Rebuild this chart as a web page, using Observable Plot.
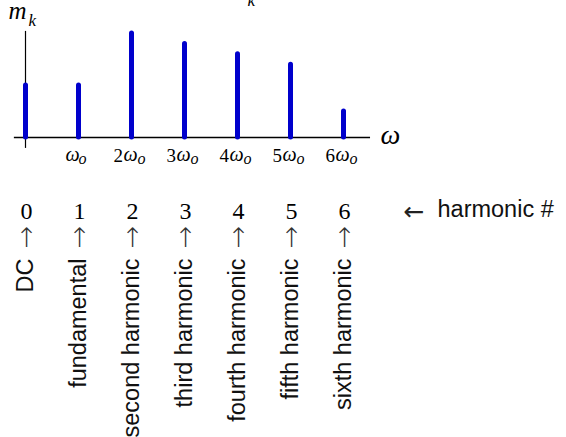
<!DOCTYPE html>
<html><head><meta charset="utf-8">
<script src="https://cdn.jsdelivr.net/npm/d3@7"></script>
<script src="https://cdn.jsdelivr.net/npm/@observablehq/plot@0.6"></script>
<style>body{margin:0;background:#fff} #chart svg{display:block}</style>
</head><body><div id="chart"></div>
<script>
// ---- data ----
const harmonics = [0, 1, 2, 3, 4, 5, 6];
const magnitudes = [1, 1, 2, 1.8, 1.6, 1.4, 0.5];
const coefLabels = ["", "", "2", "3", "4", "5", "6"];
const harmonicNames = ["DC", "fundamental", "second harmonic", "third harmonic",
  "fourth harmonic", "fifth harmonic", "sixth harmonic"];
const freqSymbol = "ω";
const freqSub = "o";
const yLabelMain = "m";
const yLabelSub = "k";
const sideArrow = "←";
const sideLabel = "harmonic #";
const upArrow = "↑";

const data = harmonics.map((k, i) => ({
  k, m: magnitudes[i], coef: coefLabels[i], name: harmonicNames[i], num: String(k)
}));
const first = data.filter(d => d.k === 1);
const multi = data.filter(d => d.k >= 2);

const serif = "'Liberation Serif', 'DejaVu Serif', serif";
const sans = "'Liberation Sans', 'DejaVu Sans', sans-serif";
const arrowFont = "'DejaVu Sans', sans-serif";
const blue = "#0000cc";

const chart = Plot.plot({
  width: 566, height: 437, margin: 0,
  x: {domain: [0, 6], range: [25, 343], axis: null},
  y: {domain: [0, 2], range: [137, 33], axis: null},
  style: {background: "white", overflow: "visible"},
  marks: [
    // axes
    Plot.ruleX([0], {y1: -0.21, y2: 2.04, stroke: "black", strokeWidth: 1.2}),
    Plot.ruleY([0], {x1: -0.21, x2: 6.51, stroke: "black", strokeWidth: 1.5}),
    // spectral lines
    Plot.ruleX(data, {x: "k", y1: 0, y2: "m", stroke: blue, strokeWidth: 5, strokeLinecap: "round"}),
    // tick labels: coefficient, omega, subscript o
    Plot.text(multi, {x: "k", text: "coef", frameAnchor: "top", dy: 161, dx: -18, lineAnchor: "bottom",
      textAnchor: "start", fontFamily: serif, fontSize: 19, fill: "black"}),
    Plot.text(first, {x: "k", text: () => freqSymbol, frameAnchor: "top", dy: 160, dx: -13, lineAnchor: "bottom",
      textAnchor: "start", fontFamily: serif, fontStyle: "italic", fontSize: 20, fill: "black"}),
    Plot.text(multi, {x: "k", text: () => freqSymbol, frameAnchor: "top", dy: 160, dx: -8, lineAnchor: "bottom",
      textAnchor: "start", fontFamily: serif, fontStyle: "italic", fontSize: 20, fill: "black"}),
    Plot.text(first, {x: "k", text: () => freqSub, frameAnchor: "top", dy: 163, dx: 0, lineAnchor: "bottom",
      textAnchor: "start", fontFamily: serif, fontStyle: "italic", fontSize: 16, fill: "black"}),
    Plot.text(multi, {x: "k", text: () => freqSub, frameAnchor: "top", dy: 163, dx: 6, lineAnchor: "bottom",
      textAnchor: "start", fontFamily: serif, fontStyle: "italic", fontSize: 16, fill: "black"}),
    // axis labels
    Plot.text([yLabelMain], {text: d => d, frameAnchor: "top-left", dx: 8, dy: 18, lineAnchor: "bottom",
      fontFamily: serif, fontStyle: "italic", fontSize: 25, fill: "black"}),
    Plot.text([yLabelSub], {text: d => d, frameAnchor: "top-left", dx: 28, dy: 25, lineAnchor: "bottom",
      fontFamily: serif, fontStyle: "italic", fontSize: 17, fill: "black"}),
    Plot.text([yLabelMain], {text: d => d, frameAnchor: "top-left", dx: 228, dy: -2, lineAnchor: "bottom",
      fontFamily: serif, fontStyle: "italic", fontSize: 25, fill: "black"}),
    Plot.text([yLabelSub], {text: d => d, frameAnchor: "top-left", dx: 247, dy: 5, lineAnchor: "bottom",
      fontFamily: serif, fontStyle: "italic", fontSize: 17, fill: "black"}),
    Plot.text([freqSymbol], {text: d => d, frameAnchor: "top-left", dx: 380, dy: 143, lineAnchor: "bottom",
      fontFamily: serif, fontStyle: "italic", fontSize: 28, fill: "black"}),
    // harmonic numbers
    Plot.text(data, {x: "k", text: "num", frameAnchor: "top", dy: 218, dx: 1, lineAnchor: "bottom",
      fontFamily: serif, fontSize: 24, fill: "black"}),
    Plot.text(data, {x: "k", text: () => upArrow, frameAnchor: "top", dy: 246, dx: 1, lineAnchor: "bottom",
      fontFamily: arrowFont, fontSize: 27, fontWeight: 200, fill: "#333"}),
    Plot.text([sideArrow], {text: d => d, frameAnchor: "top-left", dx: 403, dy: 219, lineAnchor: "bottom",
      fontFamily: arrowFont, fontSize: 25, fill: "#222"}),
    Plot.text([sideLabel], {text: d => d, frameAnchor: "top-left", dx: 437, dy: 216, lineAnchor: "bottom",
      fontFamily: sans, fontSize: 23.5, fill: "#111"}),
    // rotated names
    Plot.text(data, {x: "k", text: "name", frameAnchor: "top", dy: 258, dx: 7, rotate: -90,
      textAnchor: "end", lineAnchor: "bottom", fontFamily: sans, fontSize: 23.5, fill: "#111"})
  ]
});
document.getElementById("chart").append(chart);
</script>
</body></html>
